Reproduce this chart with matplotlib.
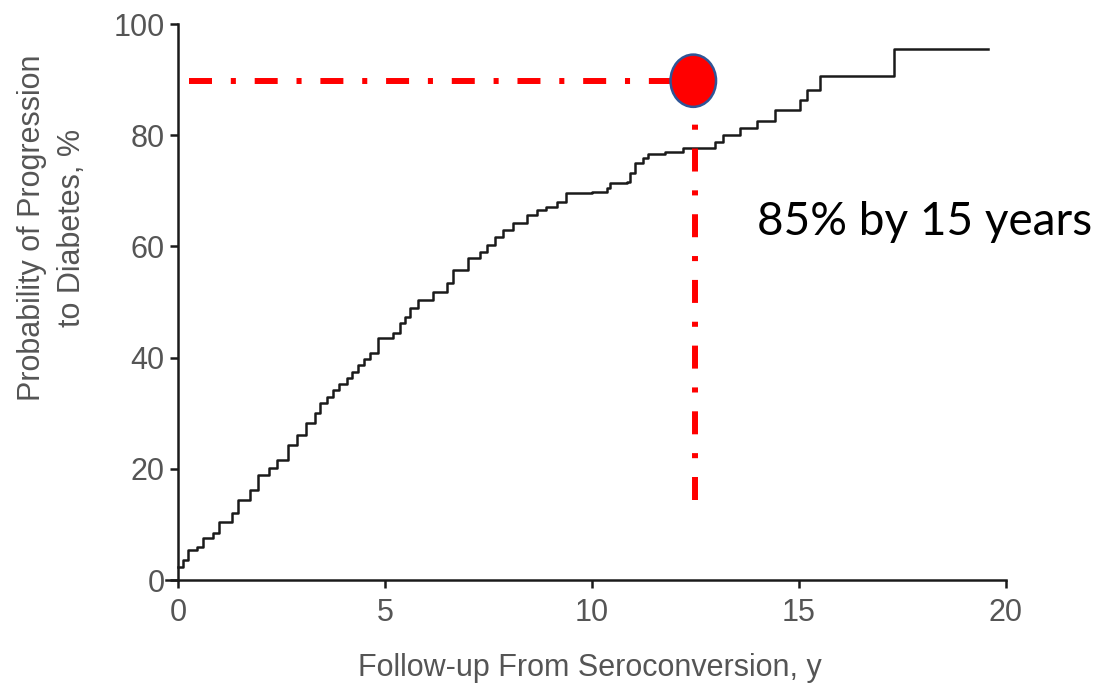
import matplotlib.pyplot as plt
from matplotlib.patches import Ellipse

# Kaplan-Meier style step curve (steps-post)
follow_up_years = [0, 0.13, 0.25, 0.45, 0.6, 0.85, 1.0, 1.3, 1.45, 1.74, 1.93, 2.2, 2.4,
                   2.66, 2.87, 3.1, 3.3, 3.43, 3.6, 3.74, 3.9, 4.08, 4.2, 4.35, 4.5, 4.64,
                   4.83, 5.2, 5.36, 5.48, 5.6, 5.8, 6.16, 6.5, 6.64, 7.0, 7.29, 7.46, 7.66,
                   7.85, 8.09, 8.43, 8.67, 8.9, 9.15, 9.37, 10.0, 10.36, 10.43, 10.85, 10.92,
                   11.04, 11.23, 11.35, 11.76, 12.2, 12.97, 13.16, 13.57, 13.99, 14.42,
                   15.02, 15.19, 15.5, 17.3, 19.57]
probability = [2.3, 3.6, 5.4, 6.0, 7.5, 8.4, 10.4, 12.0, 14.4, 16.2, 18.9, 20.1, 21.6,
               24.3, 26.0, 28.2, 30.0, 31.8, 33.0, 34.2, 35.3, 36.3, 37.5, 38.7, 39.8, 40.8,
               43.5, 44.4, 46.2, 47.3, 48.9, 50.4, 51.8, 53.4, 55.8, 57.9, 59.0, 60.3, 61.7,
               63.0, 64.2, 65.6, 66.5, 67.1, 68.0, 69.6, 69.8, 70.5, 71.4, 71.6, 73.2,
               75.0, 75.9, 76.6, 77.0, 77.7, 78.8, 80.0, 81.3, 82.6, 84.5,
               86.3, 88.1, 90.6, 95.5, 95.5]

x_ticks = [0, 5, 10, 15, 20]
y_ticks = [0, 20, 40, 60, 80, 100]

marker_year = 12.45
marker_prob = 89.8
guide_x = 12.5
annotation = "85% by 15 years"

label_grey = "#555555"
plt.rcParams['font.family'] = ['Liberation Sans', 'DejaVu Sans']

fig = plt.figure(figsize=(11.04, 6.9), dpi=100)
ax = fig.add_axes([0.150, 0.1594, 0.761, 0.8058])

ax.plot(follow_up_years, probability, drawstyle='steps-post', color='#1a1a1a', lw=1.8)

ax.set_xlim(-0.3, 20)
ax.set_ylim(0, 100)
ax.spines['left'].set_position(('data', 0))
ax.spines['top'].set_visible(False)
ax.spines['right'].set_visible(False)
for s in ('left', 'bottom'):
    ax.spines[s].set_linewidth(1.8)
    ax.spines[s].set_color('#1a1a1a')

ax.set_xticks(x_ticks)
ax.set_yticks(y_ticks)
ax.tick_params(direction='out', length=6, width=1.8, color='#1a1a1a',
               labelsize=22, labelcolor=label_grey)
ax.tick_params(axis='x', pad=7)

# red dash-dot guides: dash, gap, dot, gap (in linewidth units)
dash = (0, (3.85, 3.15, 0.85, 3.15))
ax.plot([0.266, 11.9], [marker_prob, marker_prob], color='red', lw=4.3,
        linestyle=dash, dash_capstyle='butt')
ax.plot([guide_x, guide_x], [14.4, 82.3], color='red', lw=4.3,
        linestyle=dash, dash_capstyle='butt')

ax.add_patch(Ellipse((marker_year, marker_prob), 1.1, 9.4, facecolor='red',
                     edgecolor='#2f5597', lw=1.8, zorder=5, clip_on=False))

ax.text(13.99, 64.4, annotation, ha='left', va='center', fontsize=33,
        family=['Lato', 'DejaVu Sans'], color='black')

fig.text(52 / 1104, 1 - 228 / 690, "Probability of Progression\nto Diabetes, %",
         rotation=90, ha='center', va='center', fontsize=22, color=label_grey,
         linespacing=1.45)
fig.text(590 / 1104, 1 - 668 / 690, "Follow-up From Seroconversion, y",
         ha='center', va='center', fontsize=22, color=label_grey)

fig.savefig('out.png', dpi=100)
